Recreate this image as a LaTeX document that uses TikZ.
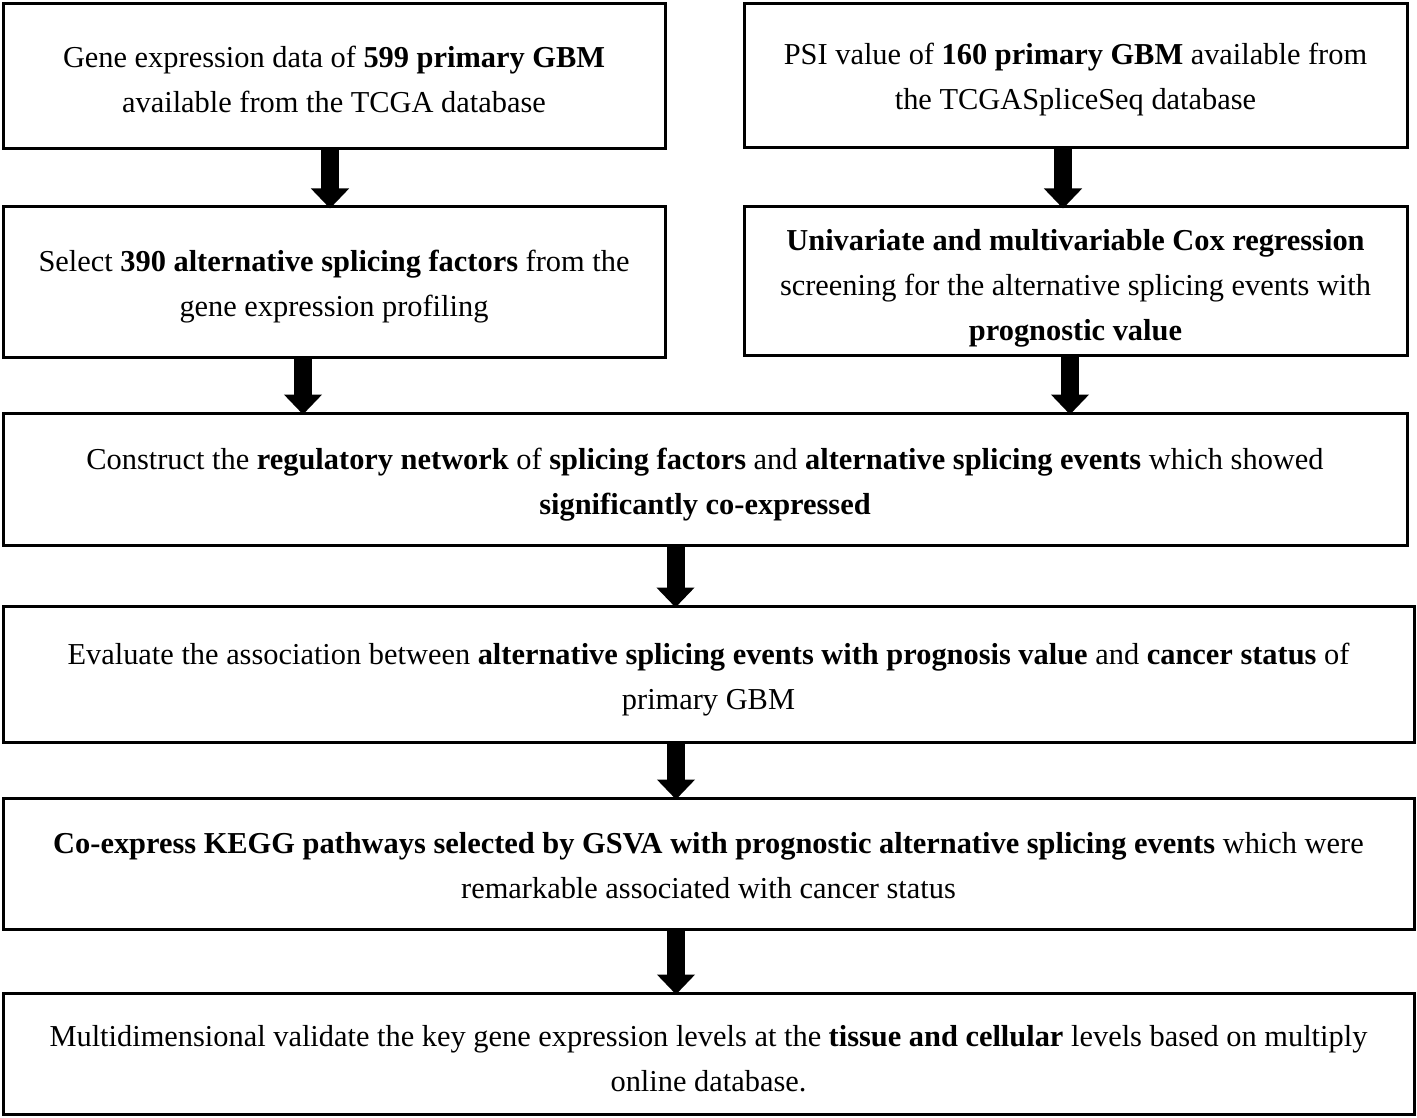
\documentclass[tikz,border=0pt]{standalone}
\usepackage{fontspec}
\setmainfont{Liberation Serif}
\usetikzlibrary{arrows.meta,calc}
\tikzset{
  box/.style={draw=black, line width=3pt, rectangle, inner sep=0pt},
  txt/.style={align=center, inner sep=0pt, font=\fontsize{30.4}{45}\selectfont},
  bigarrow/.style={line width=18pt, -{Triangle[width=37pt,length=20pt]}}
}
\begin{document}
\begin{tikzpicture}[x=1pt,y=-1pt]
\useasboundingbox (0,0) rectangle (1417,1118);
\node[box, minimum width=662pt, minimum height=145pt] (b1) at (334,76.5) {};
\node[txt] (t1) at ($(b1)+(0,3)$)
  {Gene expression data of \textbf{599 primary GBM}\\available from the TCGA database};
\node[box, minimum width=663pt, minimum height=144pt] (b2) at (1075.5,76) {};
\node[txt] (t2) at ($(b2)+(0,4)$)
  {PSI value of \textbf{160 primary GBM} available from\\the TCGASpliceSeq database};
\node[box, minimum width=662pt, minimum height=150pt] (b3) at (334,282) {};
\node[txt] (t3) at ($(b3)+(0,5)$)
  {Select \textbf{390 alternative splicing factors} from the\\gene expression profiling};
\node[box, minimum width=663pt, minimum height=148pt] (b4) at (1075.5,281) {};
\node[txt] (t4) at ($(b4)+(0,7)$)
  {\textbf{Univariate and multivariable Cox regression}\\screening for the alternative splicing events with\\\textbf{prognostic value}};
\node[box, minimum width=1404pt, minimum height=132pt] (b5) at (705,479) {};
\node[txt] (t5) at ($(b5)+(0,6)$)
  {Construct the \textbf{regulatory network} of \textbf{splicing factors} and \textbf{alternative splicing events} which showed\\\textbf{significantly co-expressed}};
\node[box, minimum width=1411pt, minimum height=136pt] (b6) at (708.5,674) {};
\node[txt] (t6) at ($(b6)+(0,6)$)
  {Evaluate the association between \textbf{alternative splicing events with prognosis value} and \textbf{cancer status} of\\primary GBM};
\node[box, minimum width=1411pt, minimum height=131pt] (b7) at (708.5,863.5) {};
\node[txt] (t7) at ($(b7)+(0,2)$)
  {\textbf{Co-express KEGG pathways selected by GSVA with prognostic alternative splicing events} which were\\remarkable associated with cancer status};
\node[box, minimum width=1411pt, minimum height=121pt] (b8) at (708.5,1053.5) {};
\node[txt] (t8) at ($(b8)+(0,5)$)
  {Multidimensional validate the key gene expression levels at the \textbf{tissue and cellular} levels based on multiply\\online database.};
\draw[bigarrow] ($(b1.south)+(-4,0)$) -- ($(b3.north)+(-4,3)$);
\draw[bigarrow] ($(b2.south)+(-12.5,0)$) -- ($(b4.north)+(-12.5,3)$);
\draw[bigarrow] ($(b3.south)+(-31,0)$) -- ($(b5.north)+(-402,3)$);
\draw[bigarrow] ($(b4.south)+(-5.5,0)$) -- ($(b5.north)+(365,3)$);
\draw[bigarrow] ($(b5.south)+(-29.5,0)$) -- ($(b6.north)+(-33,3)$);
\draw[bigarrow] ($(b6.south)+(-32.5,0)$) -- ($(b7.north)+(-32.5,3)$);
\draw[bigarrow] ($(b7.south)+(-32.5,0)$) -- ($(b8.north)+(-32.5,3)$);
\end{tikzpicture}
\end{document}
